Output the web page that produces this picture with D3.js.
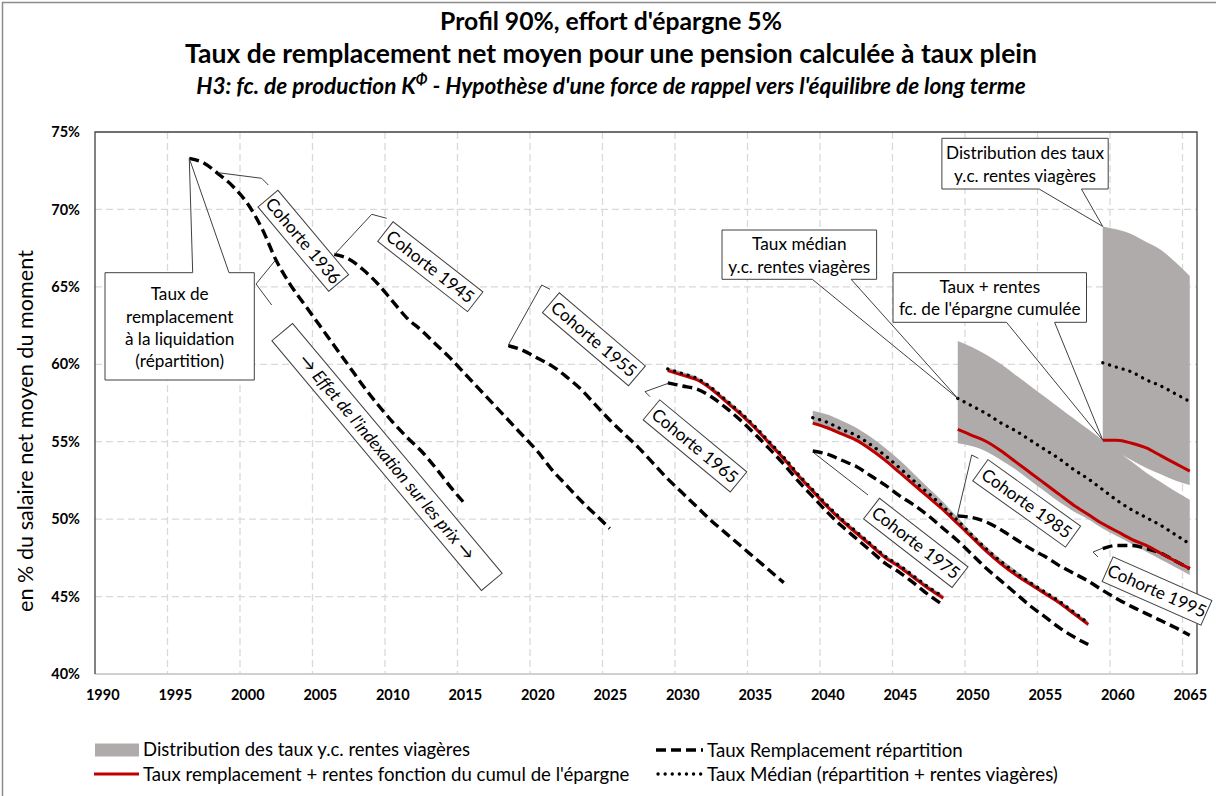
<!DOCTYPE html>
<html><head><meta charset="utf-8">
<script src="https://cdn.jsdelivr.net/npm/d3@7"></script>
<style>
body{margin:0;background:#fff;}
text{font-family:Lato,"Open Sans",sans-serif;fill:#000;}
</style>
</head><body>
<svg id="chart" width="1216" height="796"></svg>
<script>
// ---------------- DATA ----------------
const yearTicks = [1990,1995,2000,2005,2010,2015,2020,2025,2030,2035,2040,2045,2050,2055,2060,2065];
const yTicks = [40,45,50,55,60,65,70,75];
const cohorts = ["1936","1945","1955","1965","1975","1985","1995"];
const cohortStart = [1996,2006,2018,2029,2039,2049,2059];

// Taux Remplacement répartition (dashed)
const repartition1936 = [73.3,73.0,72.3,71.5,70.4,68.8,66.7,65.1,63.8,62.5,61.2,59.9,58.6,57.4,56.3,55.3,54.4,53.3,52.1,51.0];
const repartition1945 = [67.1,66.8,66.1,65.2,64.1,63.0,62.2,61.3,60.4,59.4,58.4,57.4,56.4,55.4,54.4,53.2,52.2,51.2,50.3,49.4];
const repartition1955 = [61.2,60.9,60.4,59.9,59.2,58.4,57.4,56.4,55.5,54.6,53.6,52.6,51.7,50.8,49.9,49.1,48.3,47.5,46.7,45.9];
const repartition1965 = [58.8,58.6,58.4,57.9,57.2,56.4,55.5,54.55,53.55,52.45,51.45,50.45,49.55,48.75,47.95,47.15,46.55,45.85,45.1,44.45];
const repartition1975 = [54.4,54.2,53.8,53.4,52.8,52.2,51.5,50.9,50.2,49.4,48.6,47.7,46.8,46.0,45.2,44.4,43.7,43.0,42.4,41.9];
const repartition1985 = [50.2,50.1,49.8,49.3,48.7,48.1,47.6,47.0,46.5,46.0,45.4,44.85,44.35,43.9,43.45,43.0,42.5];
const repartition1995 = [48.1,48.3,48.3,48.1,47.8,47.3,46.8];

// Taux remplacement + rentes fonction du cumul de l'épargne (red)
const epargne1965 = [59.6,59.3,59.0,58.4,57.6,56.8,55.9,54.9,53.9,52.8,51.8,50.8,49.9,49.1,48.3,47.5,46.9,46.2,45.5,44.9];
const epargne1975 = [56.2,55.9,55.5,55.1,54.5,53.8,53.0,52.2,51.4,50.6,49.7,48.8,47.9,47.1,46.4,45.8,45.2,44.6,43.9,43.2];
const epargne1985 = [55.8,55.4,55.0,54.4,53.7,53.0,52.3,51.6,50.9,50.3,49.7,49.2,48.7,48.3,47.8,47.3,46.8];
const epargne1995 = [55.1,55.1,54.9,54.6,54.1,53.6,53.1];

// Taux Médian (répartition + rentes viagères) (dotted)
const median1965 = [59.7,59.4,59.1,58.5,57.7,56.9,56.0,55.0,54.0,52.9,51.9,50.9,50.0,49.2,48.4,47.6,47.0,46.3,45.6,45.0];
const median1975 = [56.55,56.25,55.8,55.4,54.8,54.1,53.3,52.45,51.65,50.8,49.9,48.95,48.05,47.25,46.55,45.9,45.3,44.7,44.0,43.3];
const median1985 = [57.8,57.3,56.8,56.2,55.7,55.1,54.5,53.9,53.2,52.6,51.9,51.2,50.6,50.1,49.6,49.0,48.4];
const median1995 = [60.1,59.8,59.5,59.0,58.6,58.1,57.6];

// Distribution des taux y.c. rentes viagères (grey band: low / high)
const bandLow1965  = [59.6,59.3,59.0,58.4,57.6,56.8,55.9,54.9,53.9,52.8,51.8,50.8,49.9,49.1,48.3,47.5,46.9,46.2,45.5,44.9];
const bandHigh1965 = [59.8,59.5,59.2,58.6,57.8,57.0,56.1,55.1,54.1,53.0,52.0,51.0,50.1,49.3,48.5,47.7,47.1,46.4,45.7,45.1];
const bandLow1975  = [56.1,55.8,55.4,55.0,54.4,53.7,52.9,52.1,51.3,50.5,49.6,48.7,47.8,47.0,46.3,45.7,45.1,44.5,43.8,43.1];
const bandHigh1975 = [57.0,56.75,56.35,55.9,55.3,54.6,53.8,52.9,52.0,51.1,50.1,49.1,48.2,47.4,46.7,46.0,45.4,44.8,44.1,43.4];
const bandLow1985  = [54.9,54.7,54.35,53.8,53.2,52.5,51.8,51.1,50.5,50.0,49.4,48.9,48.4,47.9,47.4,46.9,46.4];
const bandHigh1985 = [61.5,61.1,60.6,60.0,59.3,58.6,57.9,57.2,56.5,55.8,55.1,54.4,53.7,53.0,52.4,51.8,51.25];
const bandLow1995  = [54.8,54.3,53.8,53.3,52.9,52.5,52.2];
const bandHigh1995 = [68.9,68.7,68.4,67.9,67.4,66.6,65.7];

const titleLines = ["Profil 90%, effort d'épargne 5%", "Taux de remplacement net moyen pour une pension calculée à taux plein"];
const yTitle = "en % du salaire net moyen du moment";
const legendLabels = ["Distribution des taux y.c. rentes viagères","Taux Remplacement répartition","Taux remplacement + rentes fonction du cumul de l'épargne","Taux Médian (répartition + rentes viagères)"];

// ---------------- CHART ----------------
const svg = d3.select("#chart");
const L = 95, R = 1197, T = 132, B = 674;
const x = d3.scaleLinear().domain([1989.5, 2065.5]).range([L, R]);
const y = d3.scaleLinear().domain([40, 75]).range([B, T]);
const GREY = "#afabab", RED = "#c00000", DARK = "#404040";

function fit(sel, target){
  const len = sel.node().getComputedTextLength();
  const fs = parseFloat(sel.attr("font-size"));
  sel.attr("font-size", (fs*target/len).toFixed(2));
  return sel;
}
const ser = (start, vals) => vals.map((v,i)=>({year:start+i, v}));

// outer border
svg.append("rect").attr("x",2.5).attr("y",2.5).attr("width",1300).attr("height",900)
  .attr("fill","none").attr("stroke","#8c8c8c").attr("stroke-width",1.5);

// titles
const cx = 611;
fit(svg.append("text").attr("x",cx).attr("y",30).attr("text-anchor","middle")
  .attr("font-weight","bold").attr("font-size",21).text(titleLines[0]), 342);
fit(svg.append("text").attr("x",cx).attr("y",63).attr("text-anchor","middle")
  .attr("font-weight","bold").attr("font-size",21).text(titleLines[1]), 852);
const t3 = svg.append("text").attr("x",cx).attr("y",94).attr("text-anchor","middle")
  .attr("font-weight","bold").attr("font-style","italic").attr("font-size",18);
t3.append("tspan").text("H3: fc. de production K");
t3.append("tspan").attr("baseline-shift","super").attr("font-size","65%").text("Φ");
t3.append("tspan").text(" - Hypothèse d'une force de rappel vers l'équilibre de long terme");
fit(t3, 830);

// gridlines
const gridYears = d3.range(1994.5, 2065, 5);
svg.append("g").selectAll("line.v").data(gridYears).join("line")
  .attr("x1",d=>x(d)).attr("x2",d=>x(d)).attr("y1",T).attr("y2",B)
  .attr("stroke","#d9d9d9").attr("stroke-width",1.3).attr("stroke-dasharray","7,4");
svg.append("g").selectAll("line.h").data(yTicks.filter(d=>d>40&&d<75)).join("line")
  .attr("x1",L).attr("x2",R).attr("y1",d=>y(d)).attr("y2",d=>y(d))
  .attr("stroke","#d9d9d9").attr("stroke-width",1.3).attr("stroke-dasharray","7,4");

// bands
const area = d3.area().x(d=>x(d.year)).y0(d=>y(d.lo)).y1(d=>y(d.hi)).curve(d3.curveMonotoneX);
const bands = [[2029,bandLow1965,bandHigh1965],[2039,bandLow1975,bandHigh1975],[2049,bandLow1985,bandHigh1985],[2059,bandLow1995,bandHigh1995]];
svg.append("g").selectAll("path").data(bands).join("path")
  .attr("d",b=>area(b[1].map((lo,i)=>({year:b[0]+i, lo, hi:b[2][i]}))))
  .attr("fill",GREY);

const line = d3.line().x(d=>x(d.year)).y(d=>y(d.v)).curve(d3.curveMonotoneX);
const rep = [repartition1936,repartition1945,repartition1955,repartition1965,repartition1975,repartition1985,repartition1995];
svg.append("g").selectAll("path").data(rep).join("path")
  .attr("d",(d,i)=>line(ser(cohortStart[i],d)))
  .attr("fill","none").attr("stroke","#000").attr("stroke-width",3.4).attr("stroke-dasharray","10,5");
const epa = [[2029,epargne1965],[2039,epargne1975],[2049,epargne1985],[2059,epargne1995]];
svg.append("g").selectAll("path").data(epa).join("path")
  .attr("d",d=>line(ser(d[0],d[1])))
  .attr("fill","none").attr("stroke",RED).attr("stroke-width",3);
const med = [[2029,median1965],[2039,median1975],[2049,median1985],[2059,median1995]];
svg.append("g").selectAll("path").data(med).join("path")
  .attr("d",d=>line(ser(d[0],d[1])))
  .attr("fill","none").attr("stroke","#000").attr("stroke-width",3.3)
  .attr("stroke-linecap","round").attr("stroke-dasharray","0.1,7");

// plot border
svg.append("line").attr("x1",L).attr("x2",R).attr("y1",B).attr("y2",B).attr("stroke","#d0d0d0").attr("stroke-width",2);
svg.append("path").attr("d",`M${L},${B}V${T}H${R}V${B}`).attr("fill","none").attr("stroke",DARK).attr("stroke-width",1.3);

// axes
const yAxis = svg.append("g").attr("transform",`translate(${L},0)`)
  .call(d3.axisLeft(y).tickValues(yTicks).tickSize(0).tickPadding(15).tickFormat(d=>d+"%"));
yAxis.select(".domain").remove();
yAxis.selectAll("text").attr("font-family","Lato").attr("font-weight","bold").attr("font-size",14.5).attr("fill","#000");
const xAxis = svg.append("g").attr("transform",`translate(0,${B})`)
  .call(d3.axisBottom(x).tickValues(yearTicks).tickSize(0).tickPadding(16).tickFormat(d3.format("d")));
xAxis.select(".domain").remove();
xAxis.selectAll("text").attr("font-family","Lato").attr("font-weight","bold").attr("font-size",14.5).attr("fill","#000");

// y title
fit(svg.append("text").attr("transform","translate(33,431) rotate(-90)").attr("text-anchor","middle")
  .attr("font-size",17).text(yTitle), 362);

// ---------------- ANNOTATIONS ----------------
const ann = svg.append("g");
const probe = ann.append("text").attr("font-size",15).text("y.c. rentes viagères");
const AFS = 15*142/probe.node().getComputedTextLength();
probe.remove();

function leader(pts){
  ann.append("polyline").attr("points",pts.map(p=>p.join(",")).join(" "))
    .attr("fill","none").attr("stroke",DARK).attr("stroke-width",1);
}
function rotBox(cxp, cyp, ang, w, h, label, italic){
  const g = ann.append("g").attr("transform",`translate(${cxp},${cyp}) rotate(${ang})`);
  g.append("rect").attr("x",-w/2).attr("y",-h/2).attr("width",w).attr("height",h)
    .attr("fill","#fff").attr("stroke",DARK).attr("stroke-width",1);
  g.append("text").attr("text-anchor","middle").attr("dy","0.35em").attr("font-size",AFS)
    .attr("font-style",italic?"italic":"normal").text(label);
}
function callout(x0,y0,x1,y1,side,b0,b1,tip,lines,lineYs){
  ann.append("rect").attr("x",x0).attr("y",y0).attr("width",x1-x0).attr("height",y1-y0).attr("fill","#fff");
  let d;
  if(side==="top") d=`M${x0},${y0}H${b0}L${tip[0]},${tip[1]}L${b1},${y0}H${x1}V${y1}H${x0}Z`;
  else d=`M${x0},${y0}H${x1}V${y1}H${b1}L${tip[0]},${tip[1]}L${b0},${y1}H${x0}Z`;
  ann.append("path").attr("d",d).attr("fill","none").attr("stroke",DARK).attr("stroke-width",1);
  lines.forEach((t,i)=>ann.append("text").attr("x",(x0+x1)/2).attr("y",lineYs[i]).attr("dy","0.35em")
    .attr("text-anchor","middle").attr("font-size",AFS).text(t));
}

leader([[218,172.7],[261.7,178.3],[268.3,185]]);
leader([[335,254],[371.7,214.3],[386.7,218.3]]);
leader([[275,260.7],[256,284],[271.7,305]]);
leader([[508.3,345],[541.7,285],[550,289.3]]);
leader([[668.3,383.3],[645,391.7],[650,396.7]]);
leader([[814,453],[868,495]]);
leader([[957,517],[971.7,455],[978.3,458.3]]);
leader([[1103,548],[1093,552],[1098,557]]);

rotBox(303.3,240.8,50,110,26,"Cohorte "+cohorts[0]);
rotBox(430.3,266.7,38,114,25,"Cohorte "+cohorts[1]);
rotBox(387,457,50,326,27,"→ Effet de l'indexation sur les prix →",true);
rotBox(593.9,339.3,40.4,113,26,"Cohorte "+cohorts[2]);
rotBox(695,445.9,39.6,113,26,"Cohorte "+cohorts[3]);
rotBox(915.8,542.9,37.8,112,26,"Cohorte "+cohorts[4]);
rotBox(1026.7,503.4,35.6,114,26,"Cohorte "+cohorts[5]);
rotBox(1157,591,23.8,108,27,"Cohorte "+cohorts[6]);

callout(105,272.7,254.3,380,"top",192.7,229,[x(1996),y(repartition1936[0])],
  ["Taux de","remplacement","à la liquidation","(répartition)"],[294,316.5,339,360.5]);
callout(722,230,876.6,279.3,"bottom",812.3,851.1,[x(2049),y(median1985[0])],
  ["Taux médian","y.c. rentes viagères"],[244,266.5]);
callout(893,272.7,1086.5,322.3,"bottom",1006.5,1054.6,[x(2059),y(epargne1995[0])],
  ["Taux + rentes","fc. de l'épargne cumulée"],[286.7,309.3]);
callout(941.9,138.3,1108.2,189,"bottom",1039.1,1081.4,[x(2059),y(bandHigh1995[0])],
  ["Distribution des taux","y.c. rentes viagères"],[153.3,176]);

// ---------------- LEGEND ----------------
const lg = svg.append("g");
lg.append("rect").attr("x",95).attr("y",743.5).attr("width",44).attr("height",13).attr("fill",GREY);
lg.append("line").attr("x1",656).attr("x2",703).attr("y1",750).attr("y2",750)
  .attr("stroke","#000").attr("stroke-width",3.4).attr("stroke-dasharray","10,5");
lg.append("line").attr("x1",94).attr("x2",139).attr("y1",774).attr("y2",774)
  .attr("stroke",RED).attr("stroke-width",3);
lg.append("line").attr("x1",658).attr("x2",703).attr("y1",774).attr("y2",774)
  .attr("stroke","#000").attr("stroke-width",3.3).attr("stroke-linecap","round").attr("stroke-dasharray","0.1,7");
const lpos = [[143,750,327],[707,750,256],[143,774,487],[707,774,351]];
lpos.forEach((p,i)=>fit(lg.append("text").attr("x",p[0]).attr("y",p[1]).attr("dy","0.35em")
  .attr("font-size",16).text(legendLabels[i]), p[2]));
</script>
</body></html>
